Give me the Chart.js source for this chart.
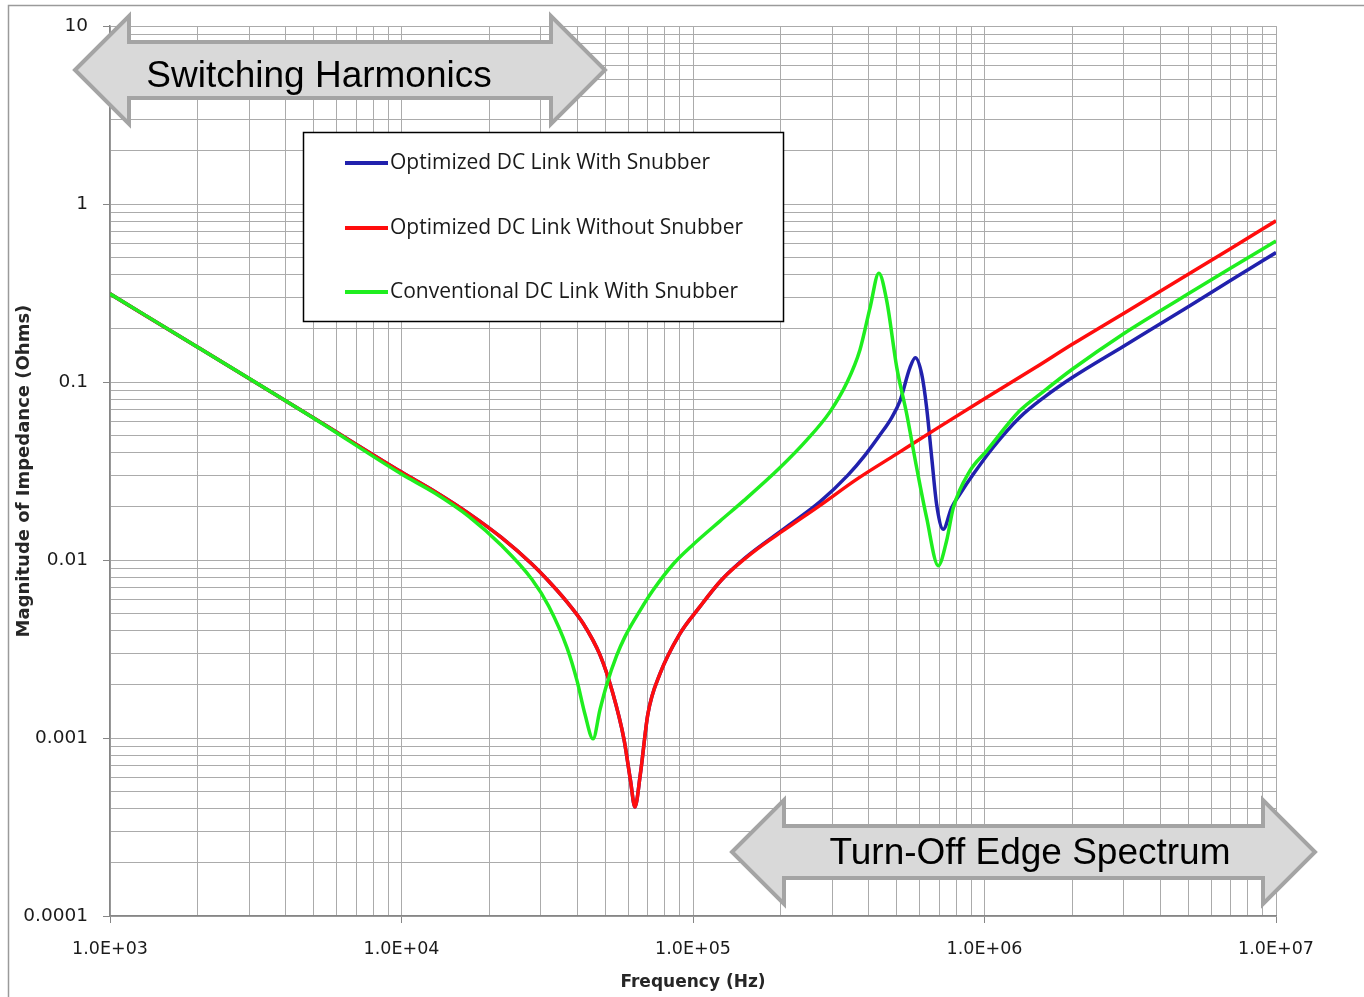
<!DOCTYPE html>
<html>
<head>
<meta charset="utf-8">
<title>DC Link Impedance</title>
<script src="https://cdn.jsdelivr.net/npm/chart.js@4.4.1/dist/chart.umd.min.js"></script>
<style>
  html, body { margin: 0; padding: 0; background: #fff; }
  #wrap { width: 1364px; height: 997px; }
</style>
</head>
<body>
<div id="wrap"><canvas id="impedance" width="1364" height="997"></canvas></div>
<script>
// values: frequency in Hz, impedance magnitude in Ohms
const freqBlue = [1000, 2000, 5000, 10000, 13000, 17000, 22000, 28000, 32000, 37000, 42000, 48000,
  53000, 58000, 61000, 63200, 66000, 70000, 77000, 90000, 105000, 125000, 150000, 210000, 273000,
  340000, 390000, 440000, 480000, 513000, 555000, 579000, 609000, 633000, 659000, 685000, 722000,
  771000, 824000, 916000, 1070000, 1320000, 1600000, 2000000, 3000000, 5000000, 7000000, 10000000];
const zBlue = [0.313, 0.157, 0.0628, 0.0312, 0.0243, 0.0183, 0.0134, 0.0095, 0.0076, 0.0058, 0.0044, 0.00292,
  0.00180, 0.00098, 0.00058, 0.00041, 0.00063, 0.00136, 0.00229, 0.00384, 0.0054, 0.0077, 0.0102, 0.0154, 0.0213,
  0.0300, 0.039, 0.051, 0.063, 0.0784, 0.1206, 0.137, 0.1107, 0.072, 0.0377, 0.0206, 0.0149,
  0.0197, 0.0235, 0.0304, 0.0429, 0.0632, 0.082, 0.106, 0.159, 0.265, 0.373, 0.534];

const freqRed = [1000, 2000, 5000, 10000, 13000, 17000, 22000, 28000, 32000, 37000, 42000, 48000,
  53000, 58000, 61000, 63200, 66000, 70000, 77000, 90000, 105000, 125000, 160000, 210000, 273000,
  364000, 500000, 700000, 1000000, 1500000, 2000000, 3000000, 5000000, 7000000, 10000000];
const zRed = [0.313, 0.157, 0.0628, 0.0312, 0.0243, 0.0183, 0.0134, 0.0095, 0.0076, 0.0058, 0.0044, 0.00292,
  0.00180, 0.00098, 0.00058, 0.00041, 0.00063, 0.00136, 0.00229, 0.00384, 0.0054, 0.0077, 0.0110, 0.0151, 0.0203,
  0.0284, 0.0395, 0.0560, 0.0805, 0.121, 0.163, 0.243, 0.403, 0.563, 0.805];

const freqGreen = [1000, 2000, 5000, 10000, 13000, 17000, 22000, 28000, 32000, 37000, 40000, 42600,
  45400, 48000, 50600, 54700, 58400, 65800, 73100, 85600, 100000, 124000, 149000, 199000, 245000,
  295000, 337000, 374000, 405000, 434000, 462000, 500000, 541000, 585000, 633000, 694000, 741000,
  782000, 891000, 1017000, 1320000, 1600000, 2000000, 3000000, 4000000, 5000000, 7000000, 10000000];
const zGreen = [0.313, 0.157, 0.0626, 0.0304, 0.0238, 0.0176, 0.0121, 0.0078, 0.0055, 0.0032, 0.0021, 0.00136,
  0.00099, 0.00145, 0.0020, 0.0029, 0.0037, 0.0052, 0.0068, 0.0095, 0.0122, 0.0166, 0.0215, 0.0331, 0.0470,
  0.0680, 0.0990, 0.152, 0.262, 0.409, 0.286, 0.121, 0.066, 0.0331, 0.0173, 0.0093, 0.0128,
  0.0197, 0.0317, 0.0411, 0.0689, 0.089, 0.118, 0.187, 0.251, 0.313, 0.437, 0.621];

const seriesLabels = ['Optimized DC Link With Snubber', 'Optimized DC Link Without Snubber', 'Conventional DC Link With Snubber'];

const xMajorTicks = [1e3, 1e4, 1e5, 1e6, 1e7];
const xTickLabels = ['1.0E+03', '1.0E+04', '1.0E+05', '1.0E+06', '1.0E+07'];
const yMajorTicks = [0.0001, 0.001, 0.01, 0.1, 1, 10];
const yTickLabels = ['0.0001', '0.001', '0.01', '0.1', '1', '10'];

const bandLabels = ['Switching Harmonics', 'Turn-Off Edge Spectrum'];

function toPoints(xs, ys) {
  return xs.map((x, i) => ({ x: x, y: ys[i] }));
}

// 1..9 per decade, like the excel log gridlines
function logTicks(majors) {
  const ticks = [];
  for (let i = 0; i < majors.length - 1; i++) {
    for (let k = 1; k < 10; k++) {
      ticks.push({ value: Number((k * majors[i]).toPrecision(6)) });
    }
  }
  ticks.push({ value: majors[majors.length - 1] });
  return ticks;
}

function majorIndex(value, majors) {
  return majors.findIndex(m => Math.abs(Math.log10(value / m)) < 1e-6);
}

function drawBandArrow(ctx, x1, x2, cy, headLen, headHalf, bodyHalf, text, tx, ty) {
  ctx.save();
  ctx.beginPath();
  ctx.moveTo(x1, cy);
  ctx.lineTo(x1 + headLen, cy - headHalf);
  ctx.lineTo(x1 + headLen, cy - bodyHalf);
  ctx.lineTo(x2 - headLen, cy - bodyHalf);
  ctx.lineTo(x2 - headLen, cy - headHalf);
  ctx.lineTo(x2, cy);
  ctx.lineTo(x2 - headLen, cy + headHalf);
  ctx.lineTo(x2 - headLen, cy + bodyHalf);
  ctx.lineTo(x1 + headLen, cy + bodyHalf);
  ctx.lineTo(x1 + headLen, cy + headHalf);
  ctx.closePath();
  ctx.fillStyle = '#d9d9d9';
  ctx.fill();
  ctx.lineWidth = 4;
  ctx.lineJoin = 'miter';
  ctx.strokeStyle = '#a4a4a4';
  ctx.stroke();
  ctx.fillStyle = '#000';
  ctx.font = '37px "Liberation Sans", Arial, sans-serif';
  ctx.textAlign = 'center';
  ctx.textBaseline = 'alphabetic';
  ctx.fillText(text, tx, ty);
  ctx.restore();
}

function drawLegend(chart) {
  const ctx = chart.ctx;
  const rows = [163, 228, 292];
  ctx.save();
  ctx.fillStyle = '#fff';
  ctx.fillRect(303, 132, 481, 190);
  ctx.strokeStyle = '#000';
  ctx.lineWidth = 1.5;
  ctx.strokeRect(303.5, 132.5, 480, 189);
  chart.data.datasets.forEach((ds, i) => {
    ctx.strokeStyle = ds.borderColor;
    ctx.lineWidth = 4;
    ctx.beginPath();
    ctx.moveTo(345, rows[i]);
    ctx.lineTo(388, rows[i]);
    ctx.stroke();
    ctx.fillStyle = '#1a1a1a';
    ctx.font = '21px "Open Sans", sans-serif';
    ctx.textAlign = 'left';
    ctx.textBaseline = 'middle';
    ctx.fillText(ds.label, 390, rows[i]);
  });
  ctx.restore();
}

const overlay = {
  id: 'overlay',
  beforeDraw(chart) {
    const ctx = chart.ctx;
    ctx.save();
    ctx.fillStyle = '#fff';
    ctx.fillRect(0, 0, chart.width, chart.height);
    ctx.strokeStyle = '#9a9a9a';
    ctx.lineWidth = 1.5;
    ctx.beginPath();
    ctx.moveTo(8.5, chart.height + 2);
    ctx.lineTo(8.5, 5.5);
    ctx.lineTo(chart.width + 2, 5.5);
    ctx.stroke();
    ctx.restore();
  },
  afterDraw(chart) {
    drawBandArrow(chart.ctx, 75, 605, 70, 54, 54, 28, bandLabels[0], 319, 87);
    drawBandArrow(chart.ctx, 732, 1315, 852, 52, 52, 26, bandLabels[1], 1030, 864);
    drawLegend(chart);
  }
};

Chart.defaults.color = '#1a1a1a';

const ctx = document.getElementById('impedance').getContext('2d');
new Chart(ctx, {
  type: 'scatter',
  data: {
    datasets: [
      { label: seriesLabels[0], data: toPoints(freqBlue, zBlue), borderColor: '#2121ad', order: 3 },
      { label: seriesLabels[1], data: toPoints(freqRed, zRed), borderColor: '#ff0d0d', order: 2 },
      { label: seriesLabels[2], data: toPoints(freqGreen, zGreen), borderColor: '#1fee1f', order: 1 }
    ]
  },
  options: {
    responsive: false,
    animation: false,
    layout: { padding: { top: 25, right: 88, left: 0, bottom: 0 } },
    datasets: {
      scatter: { showLine: true, borderWidth: 3.5, pointRadius: 0, cubicInterpolationMode: 'monotone' }
    },
    plugins: {
      legend: { display: false },
      tooltip: { enabled: false }
    },
    scales: {
      x: {
        type: 'logarithmic',
        min: 1e3,
        max: 1e7,
        afterBuildTicks: axis => { axis.ticks = logTicks(xMajorTicks); },
        afterFit: axis => { axis.height = 81; },
        grid: {
          color: '#ababab',
          lineWidth: 1,
          tickLength: 7,
          tickColor: c => majorIndex(c.tick.value, xMajorTicks) >= 0 ? '#868686' : 'rgba(0,0,0,0)'
        },
        border: { color: '#868686', width: 1.5 },
        ticks: {
          autoSkip: false,
          maxRotation: 0,
          padding: 16,
          font: { family: '"DejaVu Sans", sans-serif', size: 17.5 },
          callback: value => {
            const i = majorIndex(value, xMajorTicks);
            return i >= 0 ? xTickLabels[i] : '';
          }
        },
        title: {
          display: true,
          text: 'Frequency (Hz)',
          color: '#262626',
          font: { family: '"DejaVu Sans", sans-serif', size: 17, weight: 'bold' },
          padding: { top: 0, bottom: 4 }
        }
      },
      y: {
        type: 'logarithmic',
        min: 0.0001,
        max: 10,
        afterBuildTicks: axis => { axis.ticks = logTicks(yMajorTicks); },
        afterFit: axis => { axis.width = 110; },
        grid: {
          color: '#ababab',
          lineWidth: 1,
          tickLength: 7,
          tickColor: c => majorIndex(c.tick.value, yMajorTicks) >= 0 ? '#868686' : 'rgba(0,0,0,0)'
        },
        border: { color: '#868686', width: 1.5 },
        ticks: {
          autoSkip: false,
          padding: 15,
          font: { family: '"DejaVu Sans", sans-serif', size: 18.5 },
          callback: value => {
            const i = majorIndex(value, yMajorTicks);
            return i >= 0 ? yTickLabels[i] : '';
          }
        },
        title: {
          display: true,
          text: 'Magnitude of Impedance (Ohms)',
          color: '#262626',
          font: { family: '"DejaVu Sans", sans-serif', size: 18, weight: 'bold' },
          padding: { top: 14, bottom: 0 }
        }
      }
    }
  },
  plugins: [overlay]
});
</script>
</body>
</html>
